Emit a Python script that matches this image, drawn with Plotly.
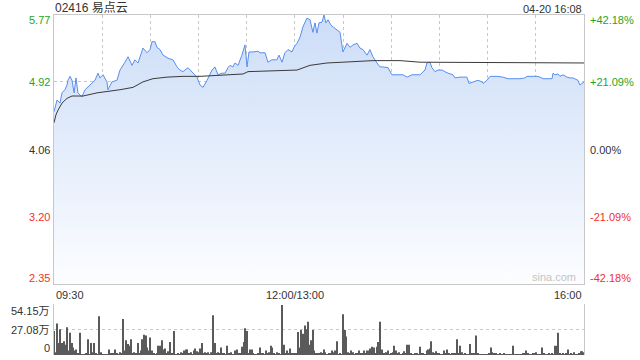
import plotly.graph_objects as go

# ---------------- data ----------------
title_text = "02416 易点云"
stamp_text = "04-20 16:08"
prev_close = 4.06

# trading minutes since 09:30 (lunch break collapsed: 150 = 12:00/13:00, 330 = 16:00)
price_minutes = [0, 1.9, 3.7, 5.0, 6.8, 8.1, 8.7, 10.0, 11.2, 12.5, 13.7, 14.9, 17.4, 19.3, 22.4, 25.5,
                 27.4, 28.6, 30.5, 33.0, 33.6, 36.1, 39.2, 41.1, 44.2, 46.1, 48.6, 50.4, 52.3, 54.8,
                 55.4, 57.9, 59.8, 61.0, 62.9, 64.1, 66.0, 67.9, 71.0, 74.1, 76.6, 78.4, 80.3, 83.4,
                 85.9, 89.0, 90.9, 92.8, 95.3, 98.4, 100.2, 102.1, 104.6, 106.5, 108.3, 109.6, 111.4,
                 112.7, 114.6, 117.0, 118.9, 120.2, 121.4, 123.9, 127.0, 128.3, 131.4, 133.2, 135.7,
                 138.8, 140.1, 142.0, 143.8, 145.7, 148.2, 149.4, 151.3, 153.2, 155.0, 157.5, 159.4,
                 161.2, 162.5, 163.7, 165.0, 166.9, 168.1, 169.3, 170.6, 172.5, 173.7, 176.2, 178.1,
                 179.9, 181.2, 182.4, 184.3, 186.2, 188.7, 190.5, 192.4, 194.9, 196.7, 198.6, 201.1,
                 203.0, 204.8, 208.0, 210.4, 213.6, 217.3, 219.8, 222.9, 227.9, 231.0, 232.2, 234.1,
                 235.3, 237.2, 239.1, 241.6, 243.4, 245.3, 248.4, 249.7, 252.8, 257.1, 258.4, 260.9,
                 264.0, 266.5, 267.1, 269.6, 271.5, 275.8, 279.5, 282.7, 290.1, 293.2, 294.5, 300.7,
                 302.6, 304.5, 310.1, 310.7, 311.9, 313.8, 315.0, 316.9, 319.4, 321.3, 323.1, 326.2,
                 327.5, 328.7, 330]
price_values = [4.54, 4.69, 4.65, 4.78, 4.82, 4.88, 4.94, 4.99, 4.94, 4.78, 4.97, 4.78, 4.73, 4.82, 4.88, 4.94,
                5.03, 4.97, 5.01, 4.92, 4.82, 4.92, 4.94, 5.07, 5.17, 5.24, 5.13, 5.20, 5.16, 5.33,
                5.35, 5.29, 5.33, 5.43, 5.43, 5.36, 5.33, 5.26, 5.22, 5.20, 5.11, 5.07, 5.05, 5.10,
                5.05, 4.98, 4.88, 4.85, 4.94, 5.07, 5.11, 5.01, 5.03, 5.03, 5.10, 5.13, 5.11,
                5.16, 5.13, 5.26, 5.39, 5.11, 5.30, 5.30, 5.31, 5.29, 5.29, 5.17, 5.20,
                5.20, 5.26, 5.17, 5.29, 5.33, 5.30, 5.36, 5.41, 5.49, 5.62, 5.73, 5.71,
                5.55, 5.67, 5.54, 5.67, 5.68, 5.77, 5.67, 5.71, 5.64, 5.62, 5.58, 5.55,
                5.30, 5.35, 5.41, 5.36, 5.39, 5.41, 5.35, 5.33, 5.26, 5.33, 5.24, 5.16,
                5.11, 5.11, 5.10, 5.01, 5.01, 5.01, 4.98, 5.01, 5.01, 5.07, 5.16, 5.17,
                5.10, 5.05, 5.07, 5.07, 5.05, 5.03, 5.01, 4.97, 4.98, 4.98, 4.90, 4.92,
                4.94, 4.92, 4.90, 4.94, 4.99, 4.99, 4.98, 4.96, 4.96, 4.97, 4.99, 4.99,
                4.98, 4.96, 4.96, 5.03, 5.01, 5.02, 4.99, 5.01, 4.98, 4.97, 4.97, 4.94,
                4.88, 4.90, 4.92]

avg_minutes = [0, 1.2, 2.5, 5.0, 8.1, 11.2, 18.1, 26.8, 41.1, 49.2, 55.4, 61.6, 70.4, 80.3, 90.9,
               117.7, 120.8, 151.3, 159.4, 170.0, 179.9, 198.6, 215.4, 227.9, 330]
avg_values = [4.40, 4.50, 4.56, 4.65, 4.71, 4.74, 4.74, 4.78, 4.82, 4.85, 4.92, 4.96, 4.98, 4.99, 4.99,
              5.02, 5.05, 5.07, 5.13, 5.16, 5.17, 5.19, 5.19, 5.17, 5.16]

# volume per trading minute, in 万
volume = [26, 3, 34, 13, 28, 13, 15, 11, 30, 5,
          24, 13, 8, 5, 6, 2, 24, 1, 1, 1,
          2, 17, 1, 13, 3, 13, 2, 1, 42, 3,
          1, 1, 1, 1, 6, 2, 2, 2, 6, 2,
          1, 3, 2, 39, 5, 16, 12, 10, 17, 2,
          3, 2, 13, 2, 5, 17, 22, 21, 8, 5,
          19, 5, 2, 1, 2, 10, 10, 16, 6, 7,
          2, 4, 14, 2, 2, 26, 1, 2, 1, 3,
          2, 5, 6, 6, 2, 3, 1, 5, 7, 4,
          3, 7, 13, 2, 3, 2, 3, 1, 3, 43,
          13, 2, 3, 2, 8, 2, 2, 1, 10, 2,
          3, 1, 1, 5, 6, 2, 2, 9, 14, 29,
          26, 2, 6, 6, 2, 1, 1, 2, 8, 2,
          2, 1, 5, 2, 3, 10, 8, 2, 1, 3,
          2, 1, 54.15, 11, 2, 5, 2, 7, 2, 2,
          2, 2, 25, 8, 27, 23, 32, 28, 36, 11,
          16, 27, 5, 2, 2, 2, 3, 2, 6, 3,
          1, 2, 2, 5, 3, 5, 15, 1, 2, 1,
          44, 27, 20, 3, 2, 5, 3, 1, 2, 2,
          5, 2, 2, 5, 2, 5, 5, 7, 9, 8,
          2, 9, 14, 36, 6, 2, 2, 3, 5, 1,
          2, 3, 10, 5, 2, 3, 1, 2, 4, 2,
          11, 11, 2, 1, 1, 2, 2, 1, 9, 2,
          2, 1, 5, 6, 7, 15, 3, 2, 4, 2,
          2, 1, 1, 5, 2, 6, 2, 1, 2, 2,
          2, 17, 2, 10, 3, 1, 2, 1, 1, 12,
          2, 2, 2, 21, 2, 1, 1, 1, 1, 1,
          1, 2, 8, 3, 2, 2, 1, 1, 2, 1,
          2, 1, 1, 1, 1, 1, 10, 1, 1, 1,
          1, 1, 2, 2, 5, 2, 1, 1, 2, 2,
          3, 1, 1, 1, 8, 2, 1, 1, 2, 1,
          2, 1, 10, 10, 24, 2, 1, 2, 1, 2,
          6, 1, 2, 1, 3, 1, 1, 2, 4, 4,
          3]
volume_minutes = list(range(len(volume)))

price_ticks = [5.77, 4.92, 4.06, 3.20, 2.35]
price_tick_text = ["5.77", "4.92", "4.06", "3.20", "2.35"]
pct_tick_text = ["+42.18%", "+21.09%", "0.00%", "-21.09%", "-42.18%"]
vol_ticks = [54.15, 27.08, 0]
vol_tick_text = ["54.15万", "27.08万", "0"]
time_ticks = [0, 150, 330]
time_tick_text = ["09:30", "12:00/13:00", "16:00"]

# ---------------- styling ----------------
GREEN = "#1fa51f"
RED = "#f0302c"
DARK = "#333333"
GRID = "#c8c8c8"
FONT = "Arial, 'Liberation Sans', 'Noto Sans CJK SC', sans-serif"

fig = go.Figure()

fig.add_trace(go.Scatter(
    x=price_minutes, y=price_values, mode="lines",
    line=dict(color="rgb(88,142,238)", width=1),
    fill="tozeroy",
    fillgradient=dict(type="vertical", start=2.35, stop=5.77,
                      colorscale=[[0, "rgb(252,253,255)"], [1, "rgb(204,221,247)"]]),
    hoverinfo="skip", xaxis="x", yaxis="y"))

fig.add_trace(go.Scatter(
    x=avg_minutes, y=avg_values, mode="lines",
    line=dict(color="#3a3a3a", width=1),
    hoverinfo="skip", xaxis="x", yaxis="y"))

fig.add_trace(go.Bar(
    x=volume_minutes, y=volume, width=0.62,
    marker=dict(color="#5a5a5a", line=dict(width=0)),
    hoverinfo="skip", xaxis="x2", yaxis="y2"))

fig.update_layout(
    width=640, height=360,
    margin=dict(l=54, r=56, t=15, b=5),
    paper_bgcolor="white", plot_bgcolor="white",
    showlegend=False,
    font=dict(family=FONT, size=11, color=DARK),
    xaxis=dict(domain=[0, 1], range=[0, 330], anchor="y",
               tickmode="linear", tick0=0, dtick=30,
               showticklabels=False, ticks="",
               showgrid=True, gridcolor=GRID, griddash="dot", gridwidth=1,
               showline=True, mirror=True, linecolor=GRID, linewidth=1, zeroline=False),
    yaxis=dict(domain=[71 / 340, 1], range=[2.35, 5.77],
               tickvals=price_ticks, showticklabels=False, ticks="",
               showgrid=True, gridcolor=GRID, griddash="dot", gridwidth=1,
               showline=True, mirror=True, linecolor=GRID, linewidth=1, zeroline=False),
    xaxis2=dict(domain=[0, 1], range=[0, 330], anchor="y2",
                showticklabels=False, ticks="", showgrid=False,
                showline=False, zeroline=False),
    yaxis2=dict(domain=[0, 51 / 340], range=[0, 55.2],
                tickvals=vol_ticks, showticklabels=False, ticks="",
                showgrid=True, gridcolor=GRID, griddash="dot", gridwidth=1,
                showline=True, mirror=True, linecolor=GRID, linewidth=1, zeroline=False),
)

ann = []
end_shift = {0: -5, 4: 6}
for i, (v, t, p) in enumerate(zip(price_ticks, price_tick_text, pct_tick_text)):
    col = GREEN if v > prev_close + 1e-9 else (RED if v < prev_close - 1e-9 else DARK)
    ys = end_shift.get(i, 0)
    ann.append(dict(xref="paper", yref="y", x=0, y=v, text=t, showarrow=False,
                    xanchor="right", yanchor="middle", xshift=-2, yshift=ys,
                    font=dict(color=col, size=11)))
    ann.append(dict(xref="paper", yref="y", x=1, y=v, text=p, showarrow=False,
                    xanchor="left", yanchor="middle", xshift=4, yshift=ys,
                    font=dict(color=col, size=11)))

vol_shift = [-6, 0, 7]
for v, t, ys in zip(vol_ticks, vol_tick_text, vol_shift):
    ann.append(dict(xref="paper", yref="y2", x=0, y=v, text=t, showarrow=False,
                    xanchor="right", yanchor="middle", xshift=-2, yshift=ys,
                    font=dict(color=DARK, size=11)))

anchors = ["left", "center", "right"]
for v, t, a in zip(time_ticks, time_tick_text, anchors):
    ann.append(dict(xref="x", yref="y domain", x=v, y=0, text=t, showarrow=False,
                    xanchor=a, yanchor="top", yshift=-3,
                    font=dict(color=DARK, size=11)))

ann.append(dict(xref="paper", yref="paper", x=0, y=1, text=title_text, showarrow=False,
                xanchor="left", yanchor="bottom", xshift=-1, yshift=-2,
                font=dict(color=DARK, size=12)))
ann.append(dict(xref="paper", yref="paper", x=1, y=1, text=stamp_text, showarrow=False,
                xanchor="right", yanchor="bottom", xshift=0, yshift=-2,
                font=dict(color=DARK, size=11)))
ann.append(dict(xref="x domain", yref="y domain", x=1, y=0, text="sina.com", showarrow=False,
                xanchor="right", yanchor="bottom", xshift=-6, yshift=-1,
                font=dict(color="#c4c4c4", size=11)))

fig.update_layout(annotations=ann)

fig.write_html("out.html")
